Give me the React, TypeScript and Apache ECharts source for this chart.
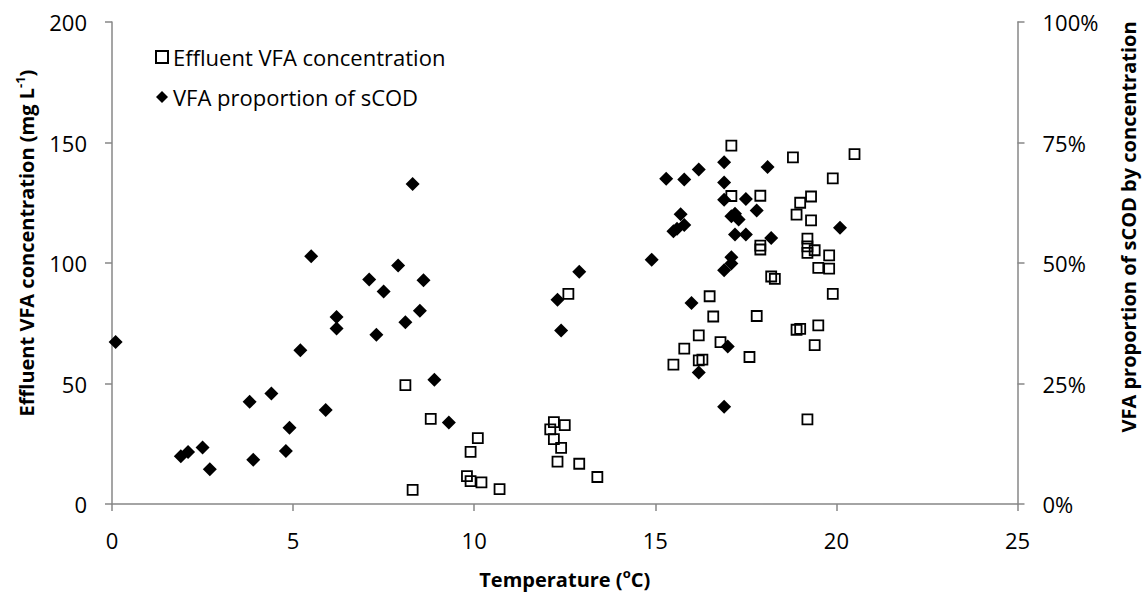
import React, { useEffect, useRef } from "react";
import * as echarts from "echarts";

// Effluent VFA concentration (mg/L) against temperature (°C)
const concTemperature = [
  8.3, 8.1, 8.8, 9.8, 9.9, 9.9, 10.1, 10.2, 10.7, 12.1, 12.2, 12.5, 12.2, 12.4,
  12.3, 12.9, 13.4, 12.6, 15.5, 15.8, 16.2, 16.2, 16.3, 16.5, 16.6, 16.8, 17.1,
  17.1, 17.6, 17.8, 17.9, 17.9, 17.9, 18.2, 18.3, 18.8, 18.9, 19.0, 18.9, 19.0,
  19.2, 19.2, 19.2, 19.2, 19.3, 19.3, 19.4, 19.4, 19.5, 19.5, 19.8, 19.8, 19.9,
  19.9, 20.5,
];
const concValues = [
  5.9, 49.3, 35.3, 11.6, 9.5, 21.6, 27.3, 9.0, 6.2, 31.0, 34.0, 32.7, 26.9, 23.3,
  17.6, 16.7, 11.2, 87.2, 57.8, 64.5, 70.0, 59.6, 59.9, 86.2, 77.8, 67.2, 148.7,
  127.8, 61.0, 78.0, 127.9, 107.2, 105.6, 94.4, 93.4, 143.8, 120.1, 125.0, 72.3,
  72.7, 110.1, 106.9, 104.2, 35.1, 127.6, 117.7, 105.3, 65.9, 98.0, 74.1, 103.2,
  97.7, 135.1, 87.2, 145.2,
];

// VFA share of soluble COD (%) against temperature (°C)
const propTemperature = [
  0.1, 1.9, 2.1, 2.5, 2.7, 3.8, 3.9, 4.4, 4.8, 4.9, 5.2, 5.5, 5.9, 6.2, 6.2, 7.1,
  7.3, 7.5, 7.9, 8.1, 8.3, 8.5, 8.6, 8.9, 9.3, 12.3, 12.4, 12.9, 14.9, 15.3, 15.5,
  15.6, 15.7, 15.8, 15.8, 16.0, 16.2, 16.2, 16.9, 16.9, 16.9, 16.9, 16.9, 17.0,
  17.1, 17.1, 17.1, 17.2, 17.2, 17.3, 17.5, 17.5, 17.8, 18.1, 18.2, 20.1,
];
const propValues = [
  33.6, 9.9, 10.8, 11.7, 7.2, 21.2, 9.2, 22.9, 11.0, 15.8, 31.9, 51.4, 19.5, 38.8,
  36.4, 46.6, 35.1, 44.1, 49.5, 37.7, 66.4, 40.1, 46.4, 25.8, 16.9, 42.4, 36.0,
  48.2, 50.7, 67.5, 56.6, 57.1, 60.1, 67.3, 57.9, 41.7, 69.4, 27.3, 70.9, 66.7,
  63.1, 48.5, 20.2, 32.7, 59.7, 51.2, 49.9, 60.2, 55.9, 59.0, 63.3, 55.9, 60.9,
  69.9, 55.2, 57.3,
];

const SERIES_CONC = "Effluent VFA concentration";
const SERIES_PROP = "VFA proportion of sCOD";

const FONT = "Open Sans";
const AXIS_GREY = "#878787";

export default function App() {
  const ref = useRef<HTMLDivElement>(null);

  useEffect(() => {
    if (!ref.current) return;
    const chart = echarts.init(ref.current, undefined, { renderer: "svg" });

    const concData = concTemperature.map((t, i) => [t, concValues[i]]);
    const propData = propTemperature.map((t, i) => [t, propValues[i]]);

    const axisLine = { show: true, lineStyle: { color: AXIS_GREY, width: 1.5 } };
    const axisTick = { show: true, length: 7, lineStyle: { color: AXIS_GREY, width: 1.5 } };
    const tickLabel = { color: "#000", fontFamily: FONT, fontSize: 22, margin: 25 };

    chart.setOption({
      animation: false,
      backgroundColor: "#fff",
      textStyle: { fontFamily: FONT },
      grid: { left: 112, right: 130.5, top: 22, bottom: 89 },
      legend: {
        orient: "vertical",
        left: 155,
        top: 43,
        padding: 0,
        itemWidth: 12,
        itemHeight: 12,
        itemGap: 12,
        textStyle: { color: "#000", fontFamily: FONT, fontSize: 22, lineHeight: 28 },
        data: [
          { name: SERIES_CONC, icon: "rect" },
          { name: SERIES_PROP, icon: "diamond" },
        ],
      },
      xAxis: {
        type: "value",
        min: 0,
        max: 25,
        interval: 5,
        axisLine,
        axisTick,
        axisLabel: tickLabel,
        splitLine: { show: false },
        name: "{t|Temperature (}{s|o}{t|C)}",
        nameLocation: "middle",
        nameGap: 62,
        nameTextStyle: {
          rich: {
            t: { fontFamily: FONT, fontSize: 20, fontWeight: "bold", color: "#000", lineHeight: 26 },
            s: { fontFamily: FONT, fontSize: 13, fontWeight: "bold", color: "#000", lineHeight: 26, verticalAlign: "top", padding: [0, 0, 10, 0] },
          },
        },
      },
      yAxis: [
        {
          type: "value",
          min: 0,
          max: 200,
          interval: 50,
          axisLine,
          axisTick,
          axisLabel: tickLabel,
          splitLine: { show: false },
        },
        {
          type: "value",
          position: "right",
          min: 0,
          max: 100,
          interval: 25,
          axisLine,
          axisTick,
          axisLabel: { ...tickLabel, formatter: "{value}%" },
          splitLine: { show: false },
        },
      ],
      graphic: [
        {
          type: "text",
          x: 26,
          y: 243,
          rotation: Math.PI / 2,
          style: {
            text: "{t|Effluent VFA concentration (mg L}{s|-1}{t|)}",
            align: "center",
            verticalAlign: "middle",
            rich: {
              t: { fontFamily: FONT, fontSize: 20, fontWeight: "bold", fill: "#000", lineHeight: 26 },
              s: { fontFamily: FONT, fontSize: 13, fontWeight: "bold", fill: "#000", lineHeight: 26, verticalAlign: "top", padding: [0, 0, 10, 0] },
            },
          },
        },
        {
          type: "text",
          x: 1128,
          y: 227,
          rotation: Math.PI / 2,
          style: {
            text: "VFA proportion of sCOD by concentration",
            align: "center",
            verticalAlign: "middle",
            fontFamily: FONT,
            fontSize: 20,
            fontWeight: "bold",
            fill: "#000",
          },
        },
      ],
      series: [
        {
          name: SERIES_CONC,
          type: "scatter",
          xAxisIndex: 0,
          yAxisIndex: 0,
          symbol: "rect",
          symbolSize: 10,
          itemStyle: { color: "transparent", borderColor: "#000", borderWidth: 1.8, opacity: 1 },
          data: concData,
        },
        {
          name: SERIES_PROP,
          type: "scatter",
          xAxisIndex: 0,
          yAxisIndex: 1,
          symbol: "diamond",
          symbolSize: 14,
          itemStyle: { color: "#000", opacity: 1 },
          data: propData,
        },
      ],
    });

    return () => chart.dispose();
  }, []);

  return (
    <div
      ref={ref}
      style={{ position: "absolute", left: 0, top: 0, width: 1148, height: 594 }}
    />
  );
}
